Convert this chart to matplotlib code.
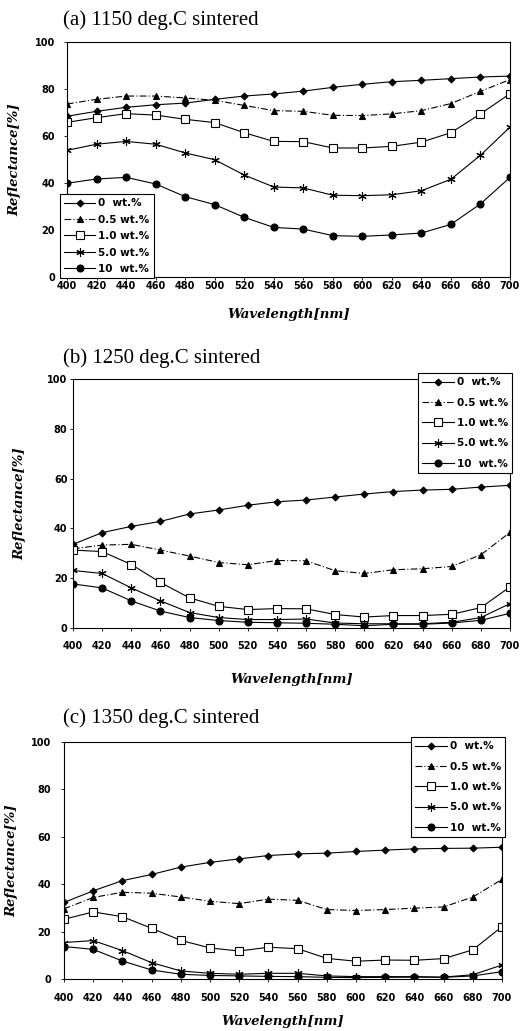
import numpy as np
import matplotlib; matplotlib.use("Agg")
import matplotlib.pyplot as plt

wavelength = [400, 420, 440, 460, 480, 500, 520, 540, 560, 580, 600, 620, 640, 660, 680, 700]
labels = ["0  wt.%", "0.5 wt.%", "1.0 wt.%", "5.0 wt.%", "10  wt.%"]

# (a) 1150 deg.C
a_0   = [68.4, 70.5, 72.2, 73.3, 74.0, 75.6, 77.0, 77.9, 79.1, 80.7, 82.0, 83.1, 83.7, 84.4, 85.1, 85.5]
a_05  = [73.6, 75.6, 77.0, 77.0, 76.2, 75.2, 73.0, 70.8, 70.5, 68.8, 68.7, 69.4, 70.8, 73.8, 79.0, 84.0]
a_10  = [65.8, 67.8, 69.5, 68.9, 67.1, 65.7, 61.4, 57.7, 57.6, 54.9, 54.9, 55.6, 57.4, 61.4, 69.4, 78.0]
a_50  = [53.9, 56.5, 57.7, 56.5, 52.8, 49.9, 43.4, 38.3, 37.9, 34.8, 34.6, 35.0, 36.7, 41.6, 51.8, 63.8]
a_100 = [39.9, 41.7, 42.4, 39.6, 34.2, 30.8, 25.4, 21.1, 20.4, 17.6, 17.3, 17.9, 18.7, 22.4, 31.1, 42.4]

# (b) 1250 deg.C
b_0   = [33.6, 38.3, 40.8, 42.8, 45.8, 47.4, 49.3, 50.7, 51.4, 52.6, 53.8, 54.8, 55.4, 55.7, 56.6, 57.3]
b_05  = [31.8, 33.3, 33.6, 31.3, 28.9, 26.3, 25.4, 27.1, 27.0, 23.0, 21.9, 23.4, 23.8, 24.7, 29.4, 38.4]
b_10  = [31.3, 30.7, 25.5, 18.3, 12.1, 8.7, 7.4, 7.8, 7.7, 5.4, 4.4, 5.0, 5.0, 5.5, 8.2, 16.5]
b_50  = [23.1, 21.9, 16.1, 10.9, 6.2, 4.2, 3.4, 3.4, 3.6, 2.0, 1.7, 1.7, 1.7, 2.3, 4.2, 9.8]
b_100 = [17.7, 16.1, 10.9, 6.8, 4.2, 3.0, 2.3, 2.1, 1.9, 1.5, 0.9, 1.5, 1.5, 2.0, 3.1, 5.9]

# (c) 1350 deg.C
c_0   = [32.3, 37.2, 41.5, 44.1, 47.2, 49.2, 50.7, 52.1, 52.8, 53.1, 53.8, 54.4, 54.9, 55.1, 55.2, 55.6]
c_05  = [29.6, 34.4, 36.6, 36.2, 34.6, 32.8, 31.8, 33.7, 33.2, 29.3, 28.9, 29.3, 29.9, 30.4, 34.6, 42.0]
c_10  = [25.2, 28.3, 26.3, 21.4, 16.3, 13.1, 11.8, 13.4, 12.8, 8.7, 7.5, 8.0, 7.9, 8.6, 12.3, 22.1]
c_50  = [15.4, 16.2, 12.0, 6.9, 3.4, 2.4, 2.0, 2.4, 2.4, 1.3, 1.0, 1.0, 1.0, 0.8, 1.8, 5.9]
c_100 = [13.7, 12.5, 7.6, 3.8, 2.0, 1.5, 1.3, 1.1, 1.0, 0.7, 0.6, 0.7, 0.8, 0.7, 1.3, 3.1]

titles = ["(a) 1150 deg.C sintered", "(b) 1250 deg.C sintered", "(c) 1350 deg.C sintered"]
panels = [[a_0, a_05, a_10, a_50, a_100],
          [b_0, b_05, b_10, b_50, b_100],
          [c_0, c_05, c_10, c_50, c_100]]

W, H = 521, 1031
# axes boxes in pixels: left, right, top, bottom
boxes = [(67, 510, 42, 277), (73, 510, 379, 628), (64, 502, 742, 979)]
title_y = [25, 363, 723]
xlabel_y = [318, 683, 1025]
ylabel_x = [15, 20, 12]
xpad = [0.5, 7, 7.5]
ypad = [6, 1.5, 7]
leg_anchor = [("lower left", (-0.016, -0.005), 0.62),
              ("upper right", (1.005, 1.024), 1.0),
              ("upper right", (1.007, 1.021), 1.0)]

styles = [dict(marker="D", ms=3.5, ls="-", mfc="black"),
          dict(marker="^", ms=4.5, ls=(0, (6, 2, 1, 2)), mfc="black"),
          dict(marker="s", ms=5.5, ls="-", mfc="white"),
          dict(marker=(6, 2, 0), ms=6, ls="-", mfc="black"),
          dict(marker="o", ms=5, ls="-", mfc="black")]

fig = plt.figure(figsize=(W / 100, H / 100), dpi=100)
tick_font = dict(family="DejaVu Sans", weight="bold", size=7)
label_font = dict(family="DejaVu Serif", weight="bold", style="italic", size=9.5)

for i, series in enumerate(panels):
    l, r, t, b = boxes[i]
    ax = fig.add_axes([l / W, 1 - b / H, (r - l) / W, (b - t) / H])
    for s, lab, st in zip(series, labels, styles):
        ax.plot(wavelength, s, color="black", lw=0.8, mec="black", mew=0.8,
                label=lab, **st)
    ax.set_xlim(400, 700)
    ax.set_ylim(0, 100)
    ax.set_xticks(wavelength)
    ax.set_yticks([0, 20, 40, 60, 80, 100])
    ax.set_xticklabels([str(w) for w in wavelength], fontdict=tick_font)
    ax.set_yticklabels(["0", "20", "40", "60", "80", "100"], fontdict=tick_font)
    ax.tick_params(direction="out", length=2.5, width=0.6)
    ax.tick_params(axis="x", pad=xpad[i])
    ax.tick_params(axis="y", pad=ypad[i])
    for sp in ax.spines.values():
        sp.set_linewidth(0.8)
    fig.text(ylabel_x[i] / W, 1 - (t + b) / 2 / H, "Reflectance[%]", rotation=90,
             ha="center", va="center", **label_font)
    fig.text((l + r) / 2 / W, 1 - xlabel_y[i] / H, "Wavelength[nm]",
             ha="center", va="baseline", **label_font)
    fig.text(63 / W, 1 - title_y[i] / H, titles[i], ha="left", va="baseline",
             family="Liberation Serif", size=15)
    loc, anchor, spacing = leg_anchor[i]
    leg = ax.legend(loc=loc, bbox_to_anchor=anchor, borderaxespad=0,
                    prop=dict(family="DejaVu Sans", weight="bold", size=7.5),
                    fancybox=False, framealpha=1, edgecolor="black",
                    handlelength=3.0, handletextpad=0.3, labelspacing=spacing,
                    borderpad=0.4)
    leg.get_frame().set_linewidth(0.8)

fig.savefig("out.png", dpi=100)
